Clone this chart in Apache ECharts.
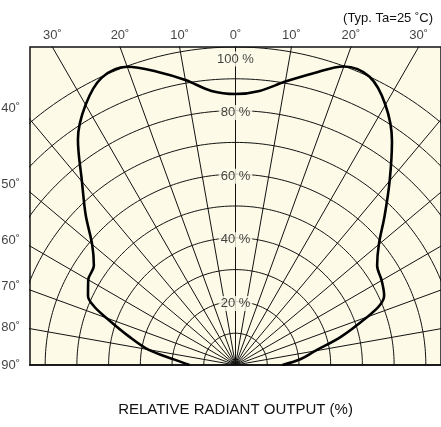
<!DOCTYPE html>
<html>
<head>
<meta charset="utf-8">
<script src="https://cdn.jsdelivr.net/npm/echarts@6/dist/echarts.min.js"></script>
<style>
html,body{margin:0;padding:0;background:#ffffff;}
#chart{width:441px;height:427px;}
</style>
</head>
<body>
<div id="chart"></div>
<script>
// ---- data ----
const angleDeg = [-90,-85,-80,-75,-70,-67.5,-65,-60,-55,-50,-45,-40,-35,-30,-25,-20,-15,-10,-5,0,5,10,15,20,25,30,35,40,45,50,55,60,65,67.5,70,75,80,85,90];
const outputPct = [14.5,19.3,27.9,34.8,43.3,48.3,51.3,53.6,54.5,59.0,66.8,75.3,86.6,94.5,99.7,99.8,95.5,91.0,86.5,85.2,86.5,90.5,95.0,99.9,100.0,94.5,86.0,75.6,66.5,59.0,54.5,53.2,51.7,49.3,44.2,34.5,25.5,20.5,14.8];
const circleLevels = [10,20,30,40,50,60,70,80,90,100];
const radialAngles = [-90,-80,-70,-60,-50,-40,-30,-20,-10,0,10,20,30,40,50,60,70,80,90];
const pctLabelLevels = [20,40,60,80,100];
const pctLabelTexts = ['20 %','40 %','60 %','80 %','100 %'];
const topTickAngles = [-30,-20,-10,0,10,20,30];
const topTickTexts = ['30˚','20˚','10˚','0˚','10˚','20˚','30˚'];
const sideTickAngles = [40,50,60,70,80,90];
const sideTickTexts = ['40˚','50˚','60˚','70˚','80˚','90˚'];
const noteText = '(Typ. Ta=25 ˚C)';
const axisTitle = 'RELATIVE RADIANT OUTPUT (%)';

// ---- layout ----
const W = 441, H = 427;
const gridLeft = 30, gridTop = 47, gridW = 412, gridH = 318;
const pxPerUnit = gridH / 100;
const xHalf = gridW / 2 / pxPerUnit;
const FONT = 'Liberation Sans';
const INK = '#111111';
const CREAM = '#fdfbe8';

const rad = d => d * Math.PI / 180;
const polarToXY = (r, a) => [r * Math.sin(rad(a)), r * Math.cos(rad(a))];

const series = [];
// concentric circles
circleLevels.forEach(lv => {
  const pts = [];
  for (let a = -90; a <= 90; a += 1) pts.push(polarToXY(lv, a));
  series.push({type:'line', data:pts, showSymbol:false, symbol:'none', silent:true, clip:true,
    lineStyle:{color:INK, width:1}, z:2});
});
// radial lines
radialAngles.forEach(a => {
  series.push({type:'line', data:[polarToXY(0,a), polarToXY(200,a)], showSymbol:false, symbol:'none', silent:true, clip:true,
    lineStyle:{color:INK, width:1}, z:2});
});
// pattern curve
series.push({type:'line', data: angleDeg.map((a,i)=>polarToXY(outputPct[i], a)), showSymbol:false, symbol:'none',
  smooth:0.35, clip:true, lineStyle:{color:'#000', width:2.6}, z:4});
// percent labels
series.push({type:'scatter', symbolSize:0, clip:false, silent:true, z:6,
  data: pctLabelLevels.map((lv,i)=>({value:[0,lv], label:{formatter:pctLabelTexts[i], offset: lv===100?[0,12]:[0,2]}})),
  label:{show:true, position:'inside', color:INK, fontFamily:FONT, fontSize:13, backgroundColor:CREAM, padding:[1,2]}});
// top angle labels
series.push({type:'scatter', symbolSize:0, clip:false, silent:true, z:6,
  data: topTickAngles.map((a,i)=>({value:[100*Math.tan(rad(a)), 100], label:{formatter:topTickTexts[i]}})),
  label:{show:true, position:'top', distance:5, color:INK, fontFamily:FONT, fontSize:13}});
// side angle labels (on extension of the radial lines)
const labelX = -(236 - 21) / pxPerUnit;
series.push({type:'scatter', symbolSize:0, clip:false, silent:true, z:6,
  data: sideTickAngles.map((a,i)=>({value:[labelX, a===90?0:(-labelX)/Math.tan(rad(a))], label:{formatter:sideTickTexts[i]}})),
  label:{show:true, position:'left', distance:1, color:INK, fontFamily:FONT, fontSize:13}});

const chart = echarts.init(document.getElementById('chart'), null, {renderer:'canvas', width:W, height:H});
chart.setOption({
  animation:false,
  backgroundColor:'#ffffff',
  title:{text:noteText, right:3, top:7, textStyle:{fontFamily:FONT, fontSize:13, fontWeight:'normal', color:INK}},
  grid:{left:gridLeft, top:gridTop, width:gridW, height:gridH, show:true, backgroundColor:CREAM, borderColor:INK, borderWidth:1.5},
  xAxis:{type:'value', min:-xHalf, max:xHalf, axisLine:{show:true, onZero:false, lineStyle:{color:'#222', width:2.2}},
    axisTick:{show:false}, axisLabel:{show:false}, splitLine:{show:false},
    name:axisTitle, nameLocation:'middle', nameGap:37, nameTextStyle:{fontFamily:FONT, fontSize:15, color:INK}},
  yAxis:{type:'value', min:0, max:100, axisLine:{show:false}, axisTick:{show:false}, axisLabel:{show:false}, splitLine:{show:false}},
  series:series
});
</script>
</body>
</html>
